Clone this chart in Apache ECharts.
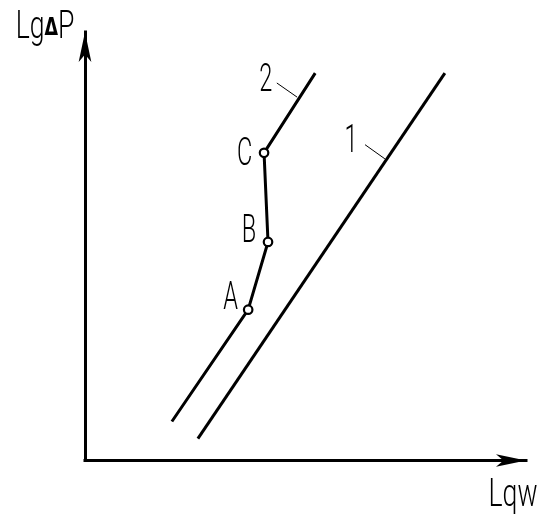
<!DOCTYPE html>
<html><head><meta charset="utf-8">
<script src="https://cdn.jsdelivr.net/npm/echarts@6/dist/echarts.min.js"></script>
<style>html,body{margin:0;padding:0;background:#fff}#c{width:542px;height:515px}</style>
</head><body><div id="c"></div>
<script>
// ---- data (arbitrary log units) ----
const line1 = [[25.6, 5.1], [81.6, 90.4]];
const line2 = [[19.7, 9.1], [37.0, 35.2], [41.5, 51.0], [40.6, 71.8], [52.2, 90.4]];
const pointNames = ['', 'A', 'B', 'C', ''];
const leader1 = [[63.5, 73.7], [68.0, 70.4]];
const leader2 = [[43.5, 88.1], [48.1, 84.8]];
const curveNames = ['1', '2'];
const axisNames = ['Lqw', 'Lg{d|Δ}P'];

const chart = echarts.init(document.getElementById('c'), null, {renderer: 'canvas'});
const axisCommon = {
  type: 'value', min: 0, max: 100,
  axisLine: {show: true, symbol: ['none', 'arrow'], symbolSize: [9.5, 30],
    lineStyle: {color: '#000', width: 3, cap: 'square'}},
  axisTick: {show: false}, axisLabel: {show: false}, splitLine: {show: false}
};
const blk = {color: '#000'};
chart.setOption({
  animation: false,
  grid: {left: 85, right: 16, top: 32, bottom: 54.5},
  xAxis: axisCommon,
  yAxis: axisCommon,
  series: [
    {type: 'line', data: line1, symbol: 'none', lineStyle: {color: '#000', width: 3}, itemStyle: blk},
    {type: 'line', data: line2.map((p, i) => ({value: p, symbol: pointNames[i] ? 'circle' : 'none'})),
      symbolSize: 8.5, showAllSymbol: true, z: 3,
      itemStyle: {color: '#fff', borderColor: '#000', borderWidth: 2.2},
      lineStyle: {color: '#000', width: 3}},
    {type: 'line', data: leader1, symbol: 'none', lineStyle: {color: '#000', width: 1}, itemStyle: blk},
    {type: 'line', data: leader2, symbol: 'none', lineStyle: {color: '#000', width: 1}, itemStyle: blk}
  ]
});

const px = p => chart.convertToPixel({gridIndex: 0}, p);
const FONT = {fontFamily: 'Roboto', fontWeight: 300, fontSize: 38};
function txt(str, pt, dx, dy, sx) {
  return {type: 'text', x: pt[0] + dx, y: pt[1] + dy, scaleX: sx, z: 10,
    style: Object.assign({text: str, fill: '#000', align: 'center', verticalAlign: 'middle',
      rich: {d: {fontFamily: 'DejaVu Sans', fontWeight: 'bold', fontSize: 25, fill: '#000'}}}, FONT)};
}
const g = [];
const abcOff = {A: [-17.5, -10.5], B: [-19, -9], C: [-19.5, 3]};
line2.forEach((p, i) => { const n = pointNames[i]; if (n) g.push(txt(n, px(p), abcOff[n][0], abcOff[n][1], 0.62)); });
g.push(txt(curveNames[0], px(leader1[0]), -14, -2, 0.62));
g.push(txt(curveNames[1], px(leader2[0]), -11, -1, 0.62));
g.push(txt(axisNames[0], px([100, 0]), -13, 36, 0.7));
g.push(txt(axisNames[1], px([0, 100]), -40, -4, 0.7));
chart.setOption({graphic: g});
</script></body></html>
